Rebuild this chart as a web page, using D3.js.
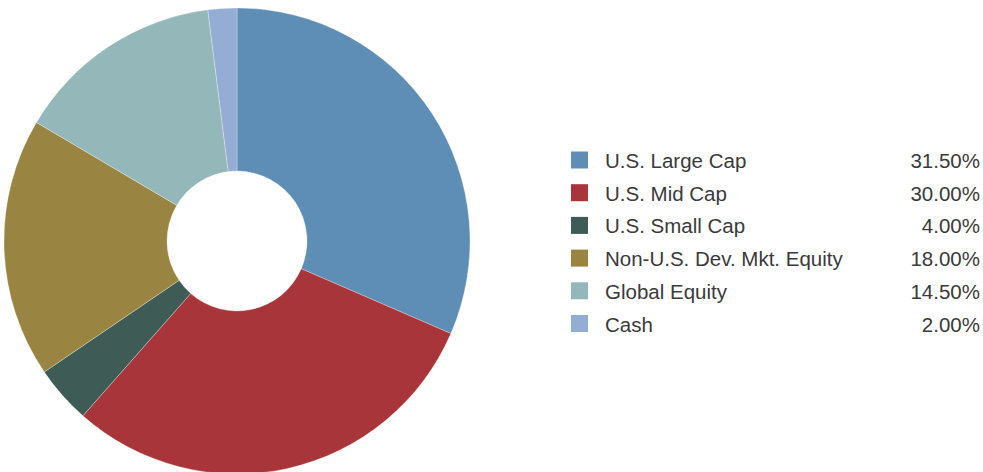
<!DOCTYPE html>
<html><head><meta charset="utf-8">
<script src="https://cdn.jsdelivr.net/npm/d3@7/dist/d3.min.js"></script>
<style>html,body{margin:0;padding:0;background:#fff;overflow:hidden}</style>
</head><body>
<svg id="chart" width="983" height="472"></svg>
<script>
const categories = ["U.S. Large Cap","U.S. Mid Cap","U.S. Small Cap","Non-U.S. Dev. Mkt. Equity","Global Equity","Cash"];
const values = [31.5, 30.0, 4.0, 18.0, 14.5, 2.0];
const labels = ["31.50%","30.00%","4.00%","18.00%","14.50%","2.00%"];
const colors = ["#5E8DB6","#A8353A","#3E5B56","#9A8441","#94B7B9","#93ADD4"];

const svg = d3.select("#chart");
const cx = 237, cy = 241, R = 233, r = 70;
const data = categories.map((c,i)=>({name:c, value:values[i], label:labels[i], color:colors[i]}));
const pie = d3.pie().value(d=>d.value).sort(null);
const arc = d3.arc().innerRadius(r).outerRadius(R);
const g = svg.append("g").attr("transform",`translate(${cx},${cy})`);
g.selectAll("path").data(pie(data)).join("path")
  .attr("d",arc).attr("fill",d=>d.data.color)
  .attr("stroke","#fff").attr("stroke-width",0.3);

const y = d3.scalePoint().domain(categories).range([160, 323.5]);
const lg = svg.append("g");
const row = lg.selectAll("g").data(data).join("g")
  .attr("transform",d=>`translate(0,${y(d.name)})`);
row.append("rect").attr("x",571).attr("y",-8.5).attr("width",17).attr("height",17).attr("fill",d=>d.color);
const font = "'Liberation Sans', Arial, sans-serif";
row.append("text").attr("x",605).attr("y",8)
  .style("font-family",font).style("font-size","20.5px")
  .attr("fill","#3a3a3a").text(d=>d.name);
row.append("text").attr("x",980).attr("y",8).attr("text-anchor","end")
  .style("font-family",font).style("font-size","20.5px")
  .attr("fill","#3a3a3a").text(d=>d.label);
</script>
</body></html>
